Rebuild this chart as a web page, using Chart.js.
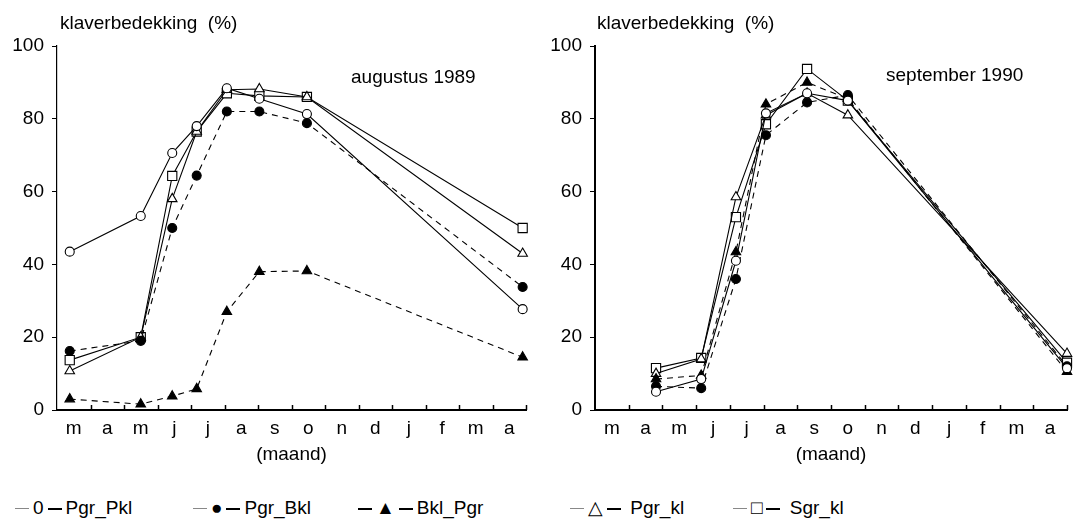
<!DOCTYPE html>
<html>
<head>
<meta charset="utf-8">
<script src="https://cdn.jsdelivr.net/npm/chart.js@4/dist/chart.umd.min.js"></script>
<style>
  body { margin: 0; background: #fff; font-family: "Liberation Sans", Arial, sans-serif; color: #000; }
  #wrap { position: relative; width: 1077px; height: 526px; overflow: hidden; }
  canvas { position: absolute; top: 0; }
  .txt { position: absolute; font-size: 19px; line-height: 24px; white-space: pre; }
  .grey { color: #888; }
  .dash { display: inline-block; width: 14px; height: 2px; background: #000; vertical-align: middle; margin: 0 4px; }
  .dash.thin { height: 1px; background: #888; }
</style>
</head>
<body>
<div id="wrap">
  <canvas id="aug" width="538" height="470" style="left:0"></canvas>
  <canvas id="sep" width="539" height="470" style="left:538px"></canvas>

  <div class="txt" style="left:60px; top:11px">klaverbedekking  (%)</div>
  <div class="txt" style="left:597px; top:11px">klaverbedekking  (%)</div>
  <div class="txt" style="left:351px; top:65px">augustus 1989</div>
  <div class="txt" style="left:886px; top:63px">september 1990</div>

  <!-- legend, as in the figure -->
  <div class="txt" style="left:11px; top:496px"><span class="dash thin"></span>0<span class="dash"></span>Pgr_Pkl</div>
  <div class="txt" style="left:189px; top:496px"><span class="dash thin"></span>●<span class="dash"></span>Pgr_Bkl</div>
  <div class="txt" style="left:354px; top:496px"><span class="dash"></span>▲<span class="dash"></span>Bkl_Pgr</div>
  <div class="txt" style="left:566px; top:496px"><span class="dash thin"></span>△<span class="dash"></span> Pgr_kl</div>
  <div class="txt" style="left:729px; top:496px"><span class="dash thin"></span>□<span class="dash"></span> Sgr_kl</div>
</div>
<script>
// month labels, march .. april next year
var months = ['m', 'a', 'm', 'j', 'j', 'a', 's', 'o', 'n', 'd', 'j', 'f', 'm', 'a'];
var seriesNames = ['Pgr_Pkl', 'Pgr_Bkl', 'Bkl_Pgr', 'Pgr_kl', 'Sgr_kl'];

// augustus 1989 (x = months since 1 march)
var augX = [0.38, 2.5, 3.44, 4.17, 5.07, 6.04, 7.46, 13.9];
var augPgrPkl = [43.5, 53.3, 70.6, 78, 88.4, 85.5, 81.3, 27.7];
var augPgrBkl = [16.2, 19, 50, 64.4, 82, 82, 78.8, 33.8];
var augBklPgr = [3, 1.6, 3.8, 5.8, 27, 38, 38.2, 14.5];
var augPgrKl = [10.7, 20, 58, 76.5, 88, 88.2, 86, 43];
var augSgrKl = [13.7, 20, 64.3, 76.5, 87, 86.3, 86, 50];

// september 1990
var sepX = [1.81, 3.15, 4.18, 5.07, 6.29, 7.5, 14.0];
var sepPgrPkl = [5, 8.5, 41, 81.5, 87, 85, 11.5];
var sepPgrBkl = [6.5, 6, 36, 75.5, 84.5, 86.5, 12];
var sepBklPgr = [8.5, 9.5, 43.4, 84, 90, 85.5, 10.5];
var sepPgrKl = [10, 14, 58.5, 81, 87, 81, 15.5];
var sepSgrKl = [11.5, 14.3, 53, 78.5, 93.7, 85, 13];

Chart.defaults.font.family = '"Liberation Sans", Arial, sans-serif';
Chart.defaults.font.size = 19;
Chart.defaults.color = '#000';

// marker look per series (open/filled, solid/dashed)
var looks = [
    {shape: 'circle', fill: '#fff', r: 4.5, dash: []},
    {shape: 'circle', fill: '#000', r: 4.5, dash: [6, 5]},
    {shape: 'triangle', fill: '#000', r: 5.5, dash: [6, 5]},
    {shape: 'triangle', fill: '#fff', r: 5.5, dash: []},
    {shape: 'rect', fill: '#fff', r: 6.5, dash: []}
];

// small tick marks pointing up from the x axis at month boundaries
var innerTicks = {
    id: 'innerTicks',
    beforeDatasetsDraw: function(chart) {
        var ctx = chart.ctx, xs = chart.scales.x, area = chart.chartArea;
        ctx.save();
        ctx.strokeStyle = '#000';
        ctx.lineWidth = 1.5;
        for (var m = 1; m <= 14; m++) {
            var px = Math.round(xs.getPixelForValue(m)) + 0.5;
            ctx.beginPath();
            ctx.moveTo(px, area.bottom);
            ctx.lineTo(px, area.bottom - 5);
            ctx.stroke();
        }
        ctx.restore();
    }
};

function makeChart(id, xs, values, padRight, yBorder) {
    var datasets = values.map(function(vals, i) {
        var lk = looks[i];
        return {
            label: seriesNames[i],
            data: vals.map(function(v, k) { return {x: xs[k], y: v}; }),
            borderColor: '#000',
            borderWidth: 1.1,
            borderDash: lk.dash,
            pointStyle: lk.shape,
            pointRadius: lk.r,
            pointBackgroundColor: lk.fill,
            pointBorderColor: '#000',
            pointBorderWidth: 1.1,
            tension: 0,
            clip: false
        };
    });
    return new Chart(document.getElementById(id), {
        type: 'line',
        data: {datasets: datasets},
        options: {
            responsive: false,
            animation: false,
            layout: {padding: {top: 46, right: padRight, bottom: 0, left: 0}},
            plugins: {legend: {display: false}, tooltip: {enabled: false}},
            scales: {
                x: {
                    type: 'linear', min: 0, max: 14,
                    afterBuildTicks: function(scale) {
                        scale.ticks = months.map(function(m, i) { return {value: i + 0.5}; });
                    },
                    afterFit: function(scale) { scale.height = 60; },
                    ticks: {
                        autoSkip: false, maxRotation: 0, padding: 3,
                        callback: function(v, i) { return months[i]; }
                    },
                    grid: {drawOnChartArea: false, tickLength: 4, tickColor: 'rgba(0,0,0,0)'},
                    border: {display: true, color: '#000', width: 2},
                    title: {display: true, text: '(maand)', padding: {top: 0, bottom: 4}}
                },
                y: {
                    min: 0, max: 100,
                    afterFit: function(scale) { scale.width = 57; },
                    ticks: {stepSize: 20, padding: 8},
                    grid: {drawOnChartArea: false, tickLength: 5, tickColor: '#000'},
                    border: {display: true, color: '#000', width: yBorder}
                }
            }
        },
        plugins: [innerTicks]
    });
}

makeChart('aug', augX, [augPgrPkl, augPgrBkl, augBklPgr, augPgrKl, augSgrKl], 12, 1.2);
makeChart('sep', sepX, [sepPgrPkl, sepPgrBkl, sepBklPgr, sepPgrKl, sepSgrKl], 10, 2);
</script>
</body>
</html>
